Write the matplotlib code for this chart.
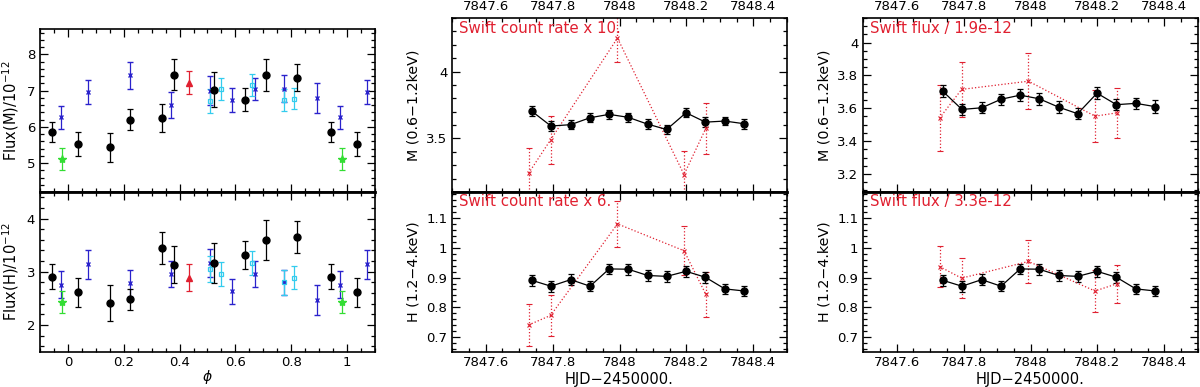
import matplotlib
matplotlib.use('Agg')
import matplotlib.pyplot as plt
from matplotlib.ticker import MultipleLocator
import numpy as np

plt.rcParams['font.family'] = ['DejaVu Sans']
plt.rcParams['mathtext.fontset'] = 'dejavusans'

# ---------------- Left panel: folded light curves ----------------
black_phase = [0.942, 0.036, 0.150, 0.224, 0.337, 0.380, 0.522, 0.635, 0.709, 0.819]
black_M     = [5.86, 5.53, 5.44, 6.20, 6.24, 7.44, 7.02, 6.75, 7.42, 7.35]
black_M_err = [0.27, 0.34, 0.40, 0.30, 0.38, 0.42, 0.48, 0.31, 0.44, 0.37]
black_H     = [2.91, 2.61, 2.42, 2.48, 3.45, 3.13, 3.16, 3.31, 3.60, 3.66]
black_H_err = [0.23, 0.28, 0.34, 0.20, 0.30, 0.35, 0.38, 0.26, 0.38, 0.30]

blue_phase = [0.976, 0.071, 0.224, 0.371, 0.510, 0.587, 0.670, 0.774, 0.891]
blue_M     = [6.26, 6.96, 7.42, 6.61, 7.00, 6.73, 7.05, 7.05, 6.80]
blue_M_err = [0.31, 0.34, 0.37, 0.36, 0.41, 0.33, 0.31, 0.37, 0.41]
blue_H     = [2.76, 3.14, 2.78, 2.96, 3.16, 2.63, 2.96, 2.80, 2.47]
blue_H_err = [0.26, 0.27, 0.26, 0.24, 0.26, 0.24, 0.25, 0.24, 0.28]

green_phase = [0.980]
green_M     = [5.11]
green_M_err = [0.31]
green_H     = [2.43]
green_H_err = [0.21]

red_phase = [0.434]
red_M     = [7.22]
red_M_err = [0.32]
red_H     = [2.89]
red_H_err = [0.26]

cyan_phase = [0.508, 0.549, 0.661, 0.774, 0.811]
cyan_M     = [6.71, 7.05, 7.16, 6.75, 6.77]
cyan_M_err = [0.32, 0.30, 0.30, 0.30, 0.29]
cyan_H     = [3.05, 2.96, 3.16, 2.80, 2.89]
cyan_H_err = [0.25, 0.22, 0.23, 0.23, 0.21]

# ---------------- Time series ----------------
hjd   = [7847.737, 7847.795, 7847.854, 7847.912, 7847.969, 7848.026,
         7848.084, 7848.141, 7848.199, 7848.257, 7848.315, 7848.373]
M_val = [3.705, 3.593, 3.603, 3.655, 3.680, 3.658, 3.607, 3.567, 3.692, 3.622, 3.630, 3.610]
M_err = [0.035, 0.035, 0.033, 0.033, 0.035, 0.035, 0.035, 0.033, 0.035, 0.035, 0.033, 0.038]
H_val = [0.891, 0.871, 0.893, 0.871, 0.929, 0.928, 0.907, 0.904, 0.921, 0.901, 0.862, 0.855]
H_err = [0.018, 0.018, 0.018, 0.017, 0.017, 0.018, 0.018, 0.019, 0.018, 0.018, 0.017, 0.018]

swift_t = [7847.728, 7847.794, 7847.994, 7848.193, 7848.258]
swift_cr_M     = [3.24, 3.49, 4.25, 3.23, 3.575]
swift_cr_M_err = [0.19, 0.18, 0.18, 0.18, 0.19]
swift_cr_H     = [0.741, 0.773, 1.080, 0.990, 0.844]
swift_cr_H_err = [0.069, 0.068, 0.078, 0.082, 0.075]
swift_fl_M     = [3.54, 3.715, 3.765, 3.552, 3.572]
swift_fl_M_err = [0.20, 0.17, 0.17, 0.16, 0.15]
swift_fl_H     = [0.937, 0.898, 0.954, 0.855, 0.879]
swift_fl_H_err = [0.070, 0.067, 0.071, 0.069, 0.064]

RED = '#e02030'
BLUE = '#2a22cc'
CYAN = '#33ccee'
GREEN = '#33dd33'

fig = plt.figure(figsize=(12, 3.87), dpi=100)
W, H = 1200.0, 387.0

def ax_at(x0, x1, y0, y1):
    return fig.add_axes([x0 / W, 1 - y1 / H, (x1 - x0) / W, (y1 - y0) / H])

def style(ax, lw=1.2):
    ax.tick_params(which='both', direction='in', top=True, right=True, labelsize=9.5,
                   width=0.9)
    ax.tick_params(which='major', length=6)
    ax.tick_params(which='minor', length=3)
    for s in ax.spines.values():
        s.set_linewidth(lw)

def fmt(v, p):
    if abs(v - round(v)) < 1e-6:
        return '%d' % round(v)
    return ('%.2f' % v).rstrip('0')

ytop_l, ymid, ybot = 29.0, 192.0, 351.5
axLT = ax_at(40, 375, ytop_l, ymid)
axLB = ax_at(40, 375, ymid, ybot)

def folded(ax, ph, v, e, **kw):
    ph = np.asarray(ph); v = np.asarray(v); e = np.asarray(e)
    xs, ys, es = [], [], []
    for sh in (-1, 0, 1):
        p = ph + sh
        m = (p >= -0.1) & (p <= 1.1)
        xs.extend(p[m]); ys.extend(v[m]); es.extend(e[m])
    ax.errorbar(xs, ys, yerr=es, linestyle='none', capsize=2.2, elinewidth=0.9,
                capthick=0.9, **kw)

for ax, key in ((axLT, 'M'), (axLB, 'H')):
    d = {'M': (black_M, black_M_err, blue_M, blue_M_err, green_M, green_M_err,
               red_M, red_M_err, cyan_M, cyan_M_err),
         'H': (black_H, black_H_err, blue_H, blue_H_err, green_H, green_H_err,
               red_H, red_H_err, cyan_H, cyan_H_err)}[key]
    folded(ax, blue_phase, d[2], d[3], marker='x', ms=3.5, mew=1.0, color=BLUE, ecolor=BLUE)
    folded(ax, cyan_phase, d[8], d[9], marker='s', ms=3.5, mfc='none', mew=0.9,
           color=CYAN, ecolor=CYAN)
    folded(ax, green_phase, d[4], d[5], marker='*', ms=6, color=GREEN, ecolor=GREEN)
    folded(ax, red_phase, d[6], d[7], marker='^', ms=4, color=RED, ecolor=RED)
    folded(ax, black_phase, d[0], d[1], marker='o', ms=5, color='black', ecolor='black')
    ax.set_xlim(-0.1, 1.1)
    ax.xaxis.set_major_locator(MultipleLocator(0.2))
    ax.xaxis.set_minor_locator(MultipleLocator(0.05))
    ax.yaxis.set_major_locator(MultipleLocator(1))
    ax.yaxis.set_minor_locator(MultipleLocator(0.2))
    ax.xaxis.set_major_formatter(plt.FuncFormatter(fmt))
    style(ax)

axLT.set_ylim(4.2, 8.7)
axLB.set_ylim(1.5, 4.5)
axLT.tick_params(labelbottom=False)
axLT.set_ylabel('Flux(M)/10$^{-12}$', fontsize=10.5)
axLB.set_ylabel('Flux(H)/10$^{-12}$', fontsize=10.5)
axLB.set_xlabel(r'$\phi$', fontsize=10, labelpad=-1)
axLB.spines['top'].set_linewidth(2.0)

# ---------------- Time-series panels ----------------
ytop_r = 18.0
panels = [
    (452.3, 786.7, swift_cr_M, swift_cr_M_err, swift_cr_H, swift_cr_H_err,
     'Swift count rate x 10.', 'Swift count rate x 6.', (3.1, 4.4), (0.5, 0.1)),
    (863.3, 1197.7, swift_fl_M, swift_fl_M_err, swift_fl_H, swift_fl_H_err,
     'Swift flux / 1.9e-12', 'Swift flux / 3.3e-12', (3.09, 4.15), (0.2, 0.05)),
]
for (x0, x1, sM, sMe, sH, sHe, tM, tH, ylimM, locM) in panels:
    aT = ax_at(x0, x1, ytop_r, ymid)
    aB = ax_at(x0, x1, ymid, ybot)
    for ax, v, e, sv, se, txt in ((aT, M_val, M_err, sM, sMe, tM),
                                 (aB, H_val, H_err, sH, sHe, tH)):
        c = ax.errorbar(swift_t, sv, yerr=se, color=RED, ecolor=RED, linestyle=':',
                        lw=0.9, marker='x', ms=3, mew=0.8, capsize=2, elinewidth=0.9,
                        capthick=0.8)
        for lc in c.lines[2]:
            lc.set_linestyle(':')
        ax.errorbar(hjd, v, yerr=e, color='black', ecolor='black', linestyle='-',
                    lw=0.9, marker='o', ms=5, capsize=2.2, elinewidth=0.9, capthick=0.9)
        ax.text(0.02, 0.985, txt, transform=ax.transAxes, color=RED, fontsize=10.8,
                va='top', ha='left')
        ax.set_xlim(7847.5, 7848.5)
        ax.xaxis.set_major_locator(MultipleLocator(0.2))
        ax.xaxis.set_minor_locator(MultipleLocator(0.05))
        ax.xaxis.set_major_formatter(plt.FuncFormatter(fmt))
        ax.yaxis.set_major_formatter(plt.FuncFormatter(fmt))
        style(ax)
    aT.set_ylim(*ylimM)
    aT.yaxis.set_major_locator(MultipleLocator(locM[0]))
    aT.yaxis.set_minor_locator(MultipleLocator(locM[1]))
    aB.set_ylim(0.652, 1.187)
    aB.yaxis.set_major_locator(MultipleLocator(0.1))
    aB.yaxis.set_minor_locator(MultipleLocator(0.02))
    aT.tick_params(labelbottom=False, labeltop=True)
    aT.set_ylabel('M (0.6\u22121.2keV)', fontsize=10.3)
    aB.set_ylabel('H (1.2\u22124.keV)', fontsize=10.3)
    aB.set_xlabel('HJD\u22122450000.', fontsize=10.5, labelpad=2)
    aB.spines['top'].set_linewidth(2.0)

fig.savefig('out.png', dpi=100)
